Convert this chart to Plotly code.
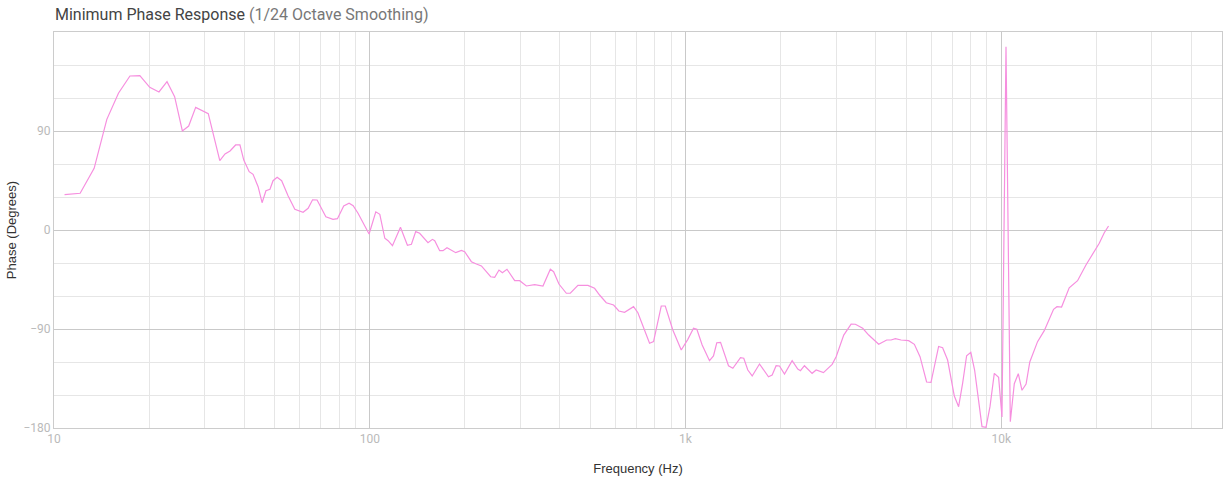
import plotly.graph_objects as go
import math

# Minimum-phase response, 1/24 octave smoothed
freq_hz = [
    10.8, 12.1, 13.4, 14.7, 16.0, 17.4, 18.7, 20.1, 21.5, 22.8,
    24.1, 25.5, 26.7, 28.1, 30.8, 33.5, 34.8, 36.1, 37.6, 38.8,
    39.9, 41.5, 42.7, 44.3, 45.6, 46.9, 48.3, 49.4, 50.9, 52.6,
    55.1, 57.9, 61.5, 63.8, 65.9, 68.1, 72.6, 76.5, 79.0, 82.7,
    86.0, 88.6, 91.8, 99.5, 104.5, 107.6, 111.6, 114.3, 118.0, 125.1,
    131.6, 135.5, 139.8, 143.9, 152.9, 157.9, 160.6, 166.5, 170.6, 175.6,
    187.2, 195.1, 199.8, 209.8, 217.6, 225.7, 241.5, 248.7, 256.6, 263.0,
    272.0, 287.7, 298.4, 313.3, 332.8, 353.6, 373.1, 382.2, 397.3, 419.3,
    431.6, 456.3, 490.8, 515.2, 534.3, 561.0, 591.8, 615.0, 641.2, 661.6,
    684.6, 706.5, 741.8, 769.3, 792.0, 837.7, 862.6, 911.6, 969.2, 1017,
    1060, 1086, 1129, 1191, 1226, 1256, 1291, 1368, 1412, 1453,
    1493, 1529, 1575, 1626, 1715, 1831, 1881, 1936, 1984, 2058,
    2176, 2267, 2312, 2380, 2517, 2592, 2734, 2913, 2999, 3170,
    3345, 3451, 3640, 3803, 4090, 4335, 4476, 4619, 4815, 5089,
    5305, 5529, 5801, 5990, 6332, 6519, 6761, 7100, 7326, 7542,
    7766, 8008, 8232, 8688, 8946, 9209, 9502, 9806, 10051, 10349,
    10680, 10995, 11320, 11630, 11981, 12310, 13028, 13680, 14640, 15010,
    15520, 16410, 17440, 18540, 20430, 21190, 21860,
]
phase_deg = [
    32.1, 33.4, 56.1, 100.6, 124.3, 140.0, 140.3, 129.7, 125.5, 134.8,
    121.2, 90.0, 94.5, 111.5, 105.7, 63.0, 69.1, 71.8, 77.3, 77.3,
    63.6, 53.0, 50.6, 39.4, 24.8, 35.7, 37.0, 44.8, 47.9, 44.8,
    31.2, 18.8, 16.1, 19.7, 27.5, 27.3, 12.1, 9.7, 10.3, 21.8,
    24.3, 22.1, 15.2, -3.6, 16.5, 14.3, -7.5, -9.7, -14.3, 2.5,
    -13.9, -13.0, -1.5, -3.0, -11.5, -8.5, -9.7, -18.8, -18.8, -16.1,
    -20.6, -18.5, -19.7, -28.8, -30.9, -32.7, -42.5, -43.0, -36.4, -38.8,
    -35.7, -46.1, -46.1, -50.9, -49.7, -50.9, -35.7, -37.9, -49.1, -57.5,
    -57.5, -50.3, -50.3, -53.0, -59.1, -66.1, -68.2, -73.6, -74.8, -72.7,
    -69.7, -75.2, -90.9, -103.0, -101.5, -69.1, -69.1, -90.9, -109.1, -99.4,
    -89.4, -90.3, -104.5, -118.8, -114.5, -102.5, -102.1, -123.4, -125.7, -121.2,
    -116.1, -116.6, -127.3, -132.7, -121.8, -133.4, -131.8, -123.4, -123.6, -130.9,
    -118.8, -126.4, -127.9, -123.4, -130.3, -127.3, -129.7, -122.1, -115.2, -95.5,
    -85.5, -85.7, -89.4, -95.5, -103.9, -100.0, -100.0, -98.8, -100.0, -100.6,
    -103.9, -115.2, -138.2, -138.6, -105.9, -107.0, -118.2, -150.9, -160.6, -139.4,
    -114.3, -111.2, -127.3, -178.8, -179.4, -160.6, -130.3, -133.9, -170.0, 166.6,
    -174.3, -139.7, -130.6, -145.7, -140.0, -120.0, -101.5, -91.5, -72.1, -69.7,
    -70.0, -52.5, -46.1, -31.8, -12.1, -2.5, 3.6,
]

x_major = [10, 100, 1000, 10000]
x_major_labels = ["10", "100", "1k", "10k"]
x_minor = [m * d for d in (10, 100, 1000, 10000) for m in range(2, 10)]
y_major = [-180, -90, 0, 90]

FONT = "Roboto, Inter, 'Liberation Sans', sans-serif"
LABEL_FONT = "'Liberation Sans', Arial, sans-serif"
MAJOR_GRID = "#c9c9c9"
MINOR_GRID = "#e6e6e6"
TICK_COLOR = "#bababa"

fig = go.Figure()
fig.add_trace(go.Scatter(
    x=freq_hz, y=phase_deg, mode="lines",
    line=dict(color="#f68fdf", width=1.2),
    hoverinfo="x+y", showlegend=False,
))

fig.update_layout(
    width=1225, height=480,
    margin=dict(l=54, r=3, t=32, b=52),
    paper_bgcolor="white", plot_bgcolor="white",
    font=dict(family=FONT, color="#333333", size=12),
    title=dict(
        text="Minimum Phase Response <span style='color:#777777'>(1/24 Octave Smoothing)</span>",
        font=dict(family=FONT, size=16, color="#444444"),
        x=55 / 1225, xanchor="left", xref="container",
        y=1 - 14 / 480, yanchor="middle", yref="container",
    ),
)

fig.update_xaxes(
    type="log",
    range=[1, math.log10(50000)],
    tickvals=x_major, ticktext=x_major_labels,
    tickfont=dict(color=TICK_COLOR, size=12),
    showgrid=True, gridcolor=MAJOR_GRID, gridwidth=1,
    minor=dict(tickvals=x_minor, showgrid=True, gridcolor=MINOR_GRID, gridwidth=1, ticks=""),
    showline=True, linecolor="#cccccc", linewidth=1, mirror=True,
    zeroline=False, ticks="",
    title=dict(text="Frequency (Hz)", font=dict(family=LABEL_FONT, size=13, color="#333333"), standoff=18),
)
fig.update_yaxes(
    range=[-180, 180],
    tickvals=y_major,
    tickfont=dict(color=TICK_COLOR, size=12),
    showgrid=True, gridcolor=MAJOR_GRID, gridwidth=1,
    minor=dict(dtick=30, tick0=0, showgrid=True, gridcolor=MINOR_GRID, gridwidth=1, ticks=""),
    showline=True, linecolor="#cccccc", linewidth=1, mirror=True,
    zeroline=False, ticks="",
    title=dict(text="Phase (Degrees)", font=dict(family=LABEL_FONT, size=13, color="#333333"), standoff=3),
)

fig.write_html("out.html")
